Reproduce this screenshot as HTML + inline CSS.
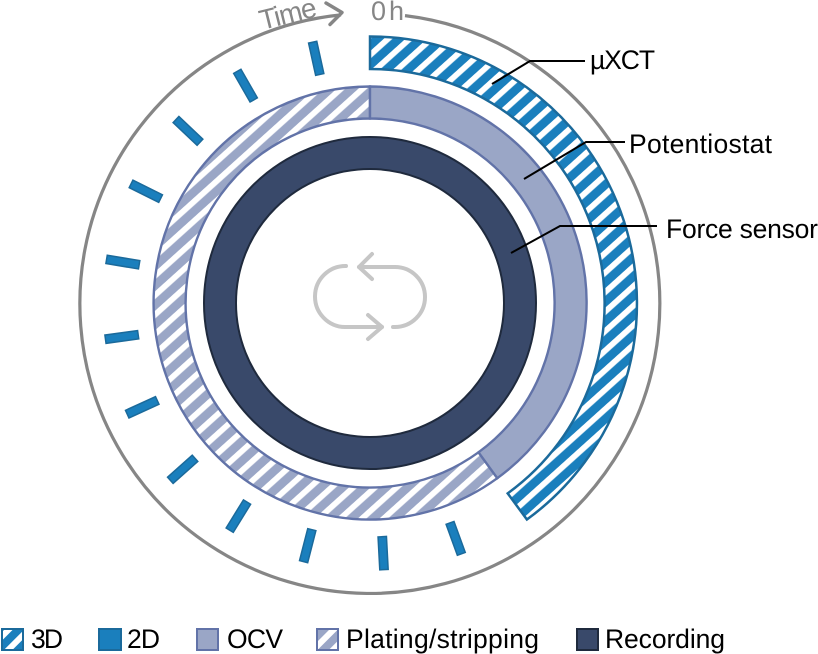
<!DOCTYPE html>
<html><head><meta charset="utf-8"><style>
html,body{margin:0;padding:0;background:#fff}
svg{display:block}
text{font-family:"Liberation Sans",sans-serif}
</style></head><body>
<svg width="818" height="654" viewBox="0 0 818 654" xmlns="http://www.w3.org/2000/svg">
<defs>
<pattern id="h1" width="14.5" height="14.5" patternUnits="userSpaceOnUse" patternTransform="translate(379 47) rotate(48) translate(-2.9 0)">
<rect width="14.5" height="14.5" fill="#1a7fbd"/><rect width="5.8" height="14.5" fill="#fff"/></pattern>
<pattern id="h2" width="14.5" height="14.5" patternUnits="userSpaceOnUse" patternTransform="translate(173 240) rotate(48) translate(-2.9 0)">
<rect width="14.5" height="14.5" fill="#9aa6c6"/><rect width="5.8" height="14.5" fill="#fff"/></pattern>
<pattern id="l1" width="14" height="14" patternUnits="userSpaceOnUse" patternTransform="rotate(45 12 639)">
<rect width="14" height="14" fill="#1a7fbd"/><rect width="6" height="14" fill="#fff"/></pattern>
<pattern id="l2" width="14" height="14" patternUnits="userSpaceOnUse" patternTransform="rotate(45 327 639)">
<rect width="14" height="14" fill="#9aa6c6"/><rect width="6" height="14" fill="#fff"/></pattern>
</defs>

<!-- outer time circle -->
<path d="M405 15.6A290 290 0 1 1 341 14.9" fill="none" stroke="#868686" stroke-width="3.2"/>
<path d="M326 3L342 12.5L330 24.500" fill="none" stroke="#868686" stroke-width="3.4" stroke-linecap="round" stroke-linejoin="round"/>
<text font-size="28" fill="#868686" transform="translate(262 30) rotate(-14)" textLength="58">Time</text>
<text x="371" y="20" font-size="27" fill="#868686" textLength="33">0 h</text>

<!-- 3D arc: 0 to 144 deg -->
<path d="M370 36.5A267 267 0 0 1 526.9 519.5L507.7 493.4A234.5 234.5 0 0 0 370 69Z" fill="url(#h1)" stroke="#1b6a9b" stroke-width="2.5"/>

<!-- 2D ticks -->
<g fill="#1a7fbd" stroke="#1b6a9b" stroke-width="1.5">
<rect x="365.8" y="36" width="8.4" height="33" transform="rotate(-12.4 370 303)"/>
<rect x="365.8" y="36" width="8.4" height="33" transform="rotate(-29.8 370 303)"/>
<rect x="365.8" y="36" width="8.4" height="33" transform="rotate(-46.6 370 303)"/>
<rect x="365.8" y="36" width="8.4" height="33" transform="rotate(-63.5 370 303)"/>
<rect x="365.8" y="36" width="8.4" height="33" transform="rotate(-80.6 370 303)"/>
<rect x="365.8" y="36" width="8.4" height="33" transform="rotate(-97.8 370 303)"/>
<rect x="365.8" y="36" width="8.4" height="33" transform="rotate(-114.6 370 303)"/>
<rect x="365.8" y="36" width="8.4" height="33" transform="rotate(-131.6 370 303)"/>
<rect x="365.8" y="36" width="8.4" height="33" transform="rotate(-148.3 370 303)"/>
<rect x="365.8" y="36" width="8.4" height="33" transform="rotate(-165.6 370 303)"/>
<rect x="365.8" y="36" width="8.4" height="33" transform="rotate(177 370 303)"/>
<rect x="365.8" y="36" width="8.4" height="33" transform="rotate(160 370 303)"/>
</g>

<!-- Plating ring -->
<path d="M370 86.5A216.5 216.5 0 1 0 497.3 478.2L478.5 452.3A184.5 184.5 0 1 1 370 118.5Z" fill="url(#h2)" stroke="#6273a8" stroke-width="2.4"/>
<!-- OCV ring -->
<path d="M370 86.5A216.5 216.5 0 0 1 497.3 478.2L478.5 452.3A184.5 184.5 0 0 0 370 118.5Z" fill="#9aa6c6" stroke="#6273a8" stroke-width="2.4"/>

<!-- Recording ring -->
<circle cx="370" cy="303" r="150" fill="none" stroke="#1f2a3d" stroke-width="34"/>
<circle cx="370" cy="303" r="150" fill="none" stroke="#39496a" stroke-width="30"/>

<!-- cycle icon -->
<g fill="none" stroke="#c6c6c6" stroke-width="4" stroke-linecap="round" stroke-linejoin="round">
<path d="M359 267H395A30 30 0 0 1 395 327H393"/>
<path d="M372 254L359 267L372 279"/>
<path d="M346 266A30.500 30.500 0 0 0 345 327H382"/>
<path d="M368 315L382 327L368 339"/>
</g>

<!-- leaders -->
<g fill="none" stroke="#000" stroke-width="2">
<path d="M492 84L530 61H585"/>
<path d="M524 179L586 142H625"/>
<path d="M511 253L560 226H657"/>
</g>
<text x="590" y="69" font-size="26.5" textLength="65">µXCT</text>
<text x="629" y="153" font-size="26.5" textLength="143">Potentiostat</text>
<text x="666" y="238" font-size="26.5" textLength="152">Force sensor</text>

<!-- legend -->
<rect x="2" y="629" width="21" height="21" fill="url(#l1)" stroke="#1b6a9b" stroke-width="2"/>
<text x="31" y="648" font-size="26.5" textLength="32">3D</text>
<rect x="99" y="629" width="22" height="21" fill="#1a7fbd" stroke="#1b6a9b" stroke-width="2"/>
<text x="127" y="648" font-size="26.5" textLength="33">2D</text>
<rect x="197" y="629" width="21" height="21" fill="#9aa6c6" stroke="#6273a8" stroke-width="2"/>
<text x="227" y="648" font-size="26.5" textLength="56">OCV</text>
<rect x="317" y="629" width="21" height="21" fill="url(#l2)" stroke="#6273a8" stroke-width="2"/>
<text x="346" y="648" font-size="26.5" textLength="193">Plating/stripping</text>
<rect x="577" y="629" width="21" height="21" fill="#39496a" stroke="#1f2a3d" stroke-width="2"/>
<text x="605" y="648" font-size="26.5" textLength="120">Recording</text>
</svg>
</body></html>
